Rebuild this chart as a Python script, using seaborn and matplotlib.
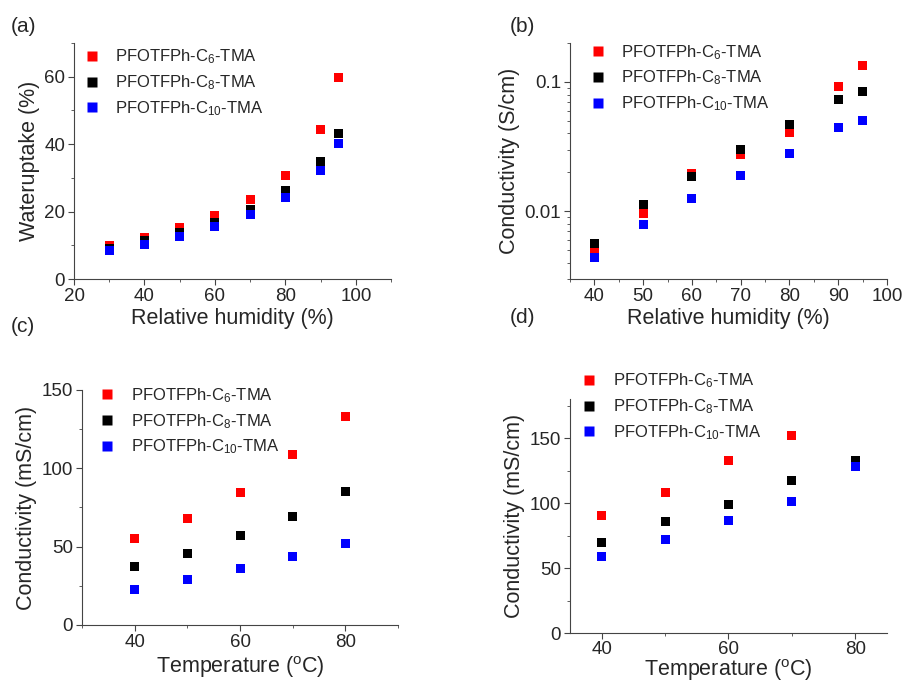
import numpy as np
import pandas as pd
import matplotlib
matplotlib.use('Agg')
import matplotlib.pyplot as plt
import seaborn as sns
from matplotlib.ticker import AutoMinorLocator, LogLocator, FuncFormatter, NullFormatter

sns.set_style('ticks')
plt.rcParams['font.family'] = ['Liberation Sans', 'DejaVu Sans']
plt.rcParams['mathtext.default'] = 'regular'

labels = ['PFOTFPh-C$_6$-TMA', 'PFOTFPh-C$_8$-TMA', 'PFOTFPh-C$_{10}$-TMA']
colors = ['#ff0000', '#000000', '#0000ff']

# (a) water uptake vs relative humidity
rh_a = [30, 40, 50, 60, 70, 80, 90, 95]
wu_c6 = [10.0, 12.3, 15.2, 18.9, 23.5, 30.7, 44.2, 59.7]
wu_c8 = [8.9, 11.3, 13.8, 16.8, 20.7, 26.3, 35.0, 43.3]
wu_c10 = [8.4, 10.2, 12.7, 15.5, 19.1, 24.1, 32.2, 40.2]

# (b) conductivity (S/cm) vs relative humidity
rh_b = [40, 50, 60, 70, 80, 90, 95]
cond_c6 = [0.00493, 0.0096, 0.0195, 0.0276, 0.0404, 0.0925, 0.133]
cond_c8 = [0.00562, 0.0112, 0.0187, 0.0301, 0.0466, 0.0734, 0.0842]
cond_c10 = [0.00443, 0.00789, 0.0126, 0.0190, 0.0279, 0.0446, 0.0508]

# (c) conductivity (mS/cm) vs temperature
temp_c = [40, 50, 60, 70, 80]
tc_c6 = [55.4, 68.2, 84.8, 109.0, 133.2]
tc_c8 = [37.4, 45.7, 57.4, 69.1, 85.4]
tc_c10 = [22.7, 28.9, 35.9, 43.6, 52.3]

# (d) conductivity (mS/cm) vs temperature
temp_d = [40, 50, 60, 70, 80]
td_c6 = [90.2, 108.1, 132.4, 151.8, np.nan]
td_c8 = [69.5, 85.9, 98.6, 117.3, 132.4]
td_c10 = [58.5, 72.3, 86.6, 101.2, 127.8]


def long_df(x, series):
    frames = []
    for lab, vals in zip(labels, series):
        frames.append(pd.DataFrame({'x': x, 'y': vals, 'sample': lab}))
    return pd.concat(frames, ignore_index=True).dropna()


fig = plt.figure(figsize=(9.05, 6.85), dpi=100)
ax_a = fig.add_axes([0.0818, 0.5927, 0.3503, 0.3445])
ax_b = fig.add_axes([0.6298, 0.5927, 0.3503, 0.3445])
ax_c = fig.add_axes([0.0906, 0.0876, 0.3492, 0.3431])
ax_d = fig.add_axes([0.6298, 0.0759, 0.3503, 0.3416])

panels = [
    (ax_a, long_df(rh_a, [wu_c6, wu_c8, wu_c10]), 'Relative humidity (%)', 'Wateruptake (%)', (0.076, 0.940)),
    (ax_b, long_df(rh_b, [cond_c6, cond_c8, cond_c10]), 'Relative humidity (%)', 'Conductivity (S/cm)', (0.635, 0.947)),
    (ax_c, long_df(temp_c, [tc_c6, tc_c8, tc_c10]), 'Temperature ($^{o}$C)', 'Conductivity (mS/cm)', (0.093, 0.446)),
    (ax_d, long_df(temp_d, [td_c6, td_c8, td_c10]), 'Temperature ($^{o}$C)', 'Conductivity (mS/cm)', (0.6254, 0.467)),
]

for ax, df, xl, yl, leg_pos in panels:
    sns.scatterplot(data=df, x='x', y='y', hue='sample', hue_order=labels,
                    palette=colors, marker='s', s=42, edgecolor='none', ax=ax)
    ax.set_xlabel(xl, fontsize=15.5, labelpad=2)
    ax.set_ylabel(yl, fontsize=15.5, labelpad=3)
    sns.despine(ax=ax)
    ax.tick_params(which='major', direction='out', length=4, labelsize=13.5, color='#444444', pad=2.5)
    ax.tick_params(which='minor', direction='out', length=2.5, color='#444444')
    for sp in ax.spines.values():
        sp.set_color('#444444')
    ax.legend(loc='upper left', bbox_to_anchor=leg_pos, bbox_transform=fig.transFigure,
              frameon=False, fontsize=12, markerscale=1.0, handletextpad=0.4,
              labelspacing=0.42, borderaxespad=0)

# keep the bottom-right x label inside the figure
ax_d.set_xlabel('Temperature ($^{o}$C)', fontsize=15.5, labelpad=0)
ax_d.tick_params(axis='x', pad=1.5)

ax_a.set_xlim(20, 110)
ax_a.set_ylim(0, 70)
ax_a.set_xticks([20, 40, 60, 80, 100])
ax_a.set_yticks([0, 20, 40, 60])
ax_a.xaxis.set_minor_locator(AutoMinorLocator(2))
ax_a.yaxis.set_minor_locator(AutoMinorLocator(2))

ax_b.set_yscale('log')
ax_b.set_xlim(35, 100)
ax_b.set_ylim(0.003, 0.2)
ax_b.set_xticks([40, 50, 60, 70, 80, 90, 100])
ax_b.xaxis.set_minor_locator(AutoMinorLocator(2))
ax_b.yaxis.set_major_locator(LogLocator(base=10))
ax_b.yaxis.set_minor_locator(LogLocator(base=10, subs=np.arange(2, 10)))
ax_b.yaxis.set_major_formatter(FuncFormatter(lambda v, _: f'{v:g}'))
ax_b.yaxis.set_minor_formatter(NullFormatter())

ax_c.set_xlim(30, 90)
ax_c.set_ylim(0, 150)
ax_c.set_xticks([40, 60, 80])
ax_c.set_yticks([0, 50, 100, 150])
ax_c.xaxis.set_minor_locator(AutoMinorLocator(2))
ax_c.yaxis.set_minor_locator(AutoMinorLocator(2))

ax_d.set_xlim(35, 85)
ax_d.set_ylim(0, 180)
ax_d.set_xticks([40, 60, 80])
ax_d.set_yticks([0, 50, 100, 150])
ax_d.xaxis.set_minor_locator(AutoMinorLocator(2))
ax_d.yaxis.set_minor_locator(AutoMinorLocator(2))

fig.text(0.012, 0.962, '(a)', fontsize=15, va='center')
fig.text(0.563, 0.962, '(b)', fontsize=15, va='center')
fig.text(0.012, 0.524, '(c)', fontsize=15, va='center')
fig.text(0.563, 0.536, '(d)', fontsize=15, va='center')

fig.savefig('out.png', dpi=100)
